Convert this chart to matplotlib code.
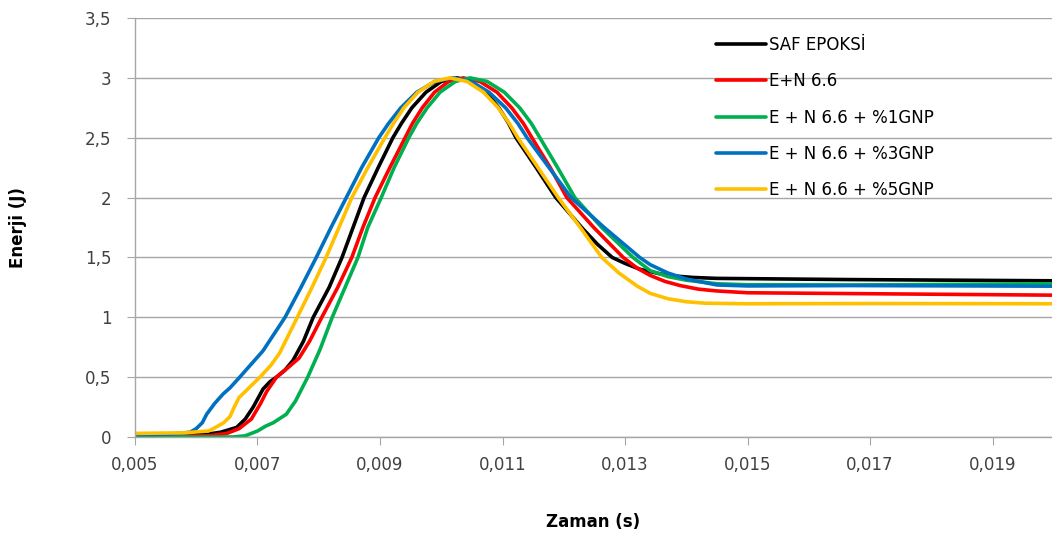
import matplotlib
matplotlib.use("Agg")
import matplotlib.pyplot as plt
from matplotlib.ticker import FixedLocator

# values (time in s, energy in J)
t_saf = [0.0050, 0.0058, 0.0062, 0.0064, 0.00666, 0.0068, 0.00693, 0.00709, 0.0072, 0.00731,
         0.00745, 0.00758, 0.00775, 0.00791, 0.00817, 0.00838, 0.00856, 0.00874, 0.00897, 0.00921,
         0.00935, 0.00952, 0.00975, 0.01000, 0.01026, 0.01049, 0.01073, 0.01094, 0.0111, 0.01122,
         0.01155, 0.01187, 0.01231, 0.01255, 0.01279, 0.01300, 0.01325, 0.01369, 0.0141, 0.0145,
         0.0167, 0.01997]
e_saf = [0.01, 0.015, 0.025, 0.04, 0.08, 0.15, 0.25, 0.40, 0.46, 0.50,
         0.56, 0.64, 0.80, 1.00, 1.25, 1.50, 1.75, 2.00, 2.25, 2.50,
         2.62, 2.75, 2.88, 2.97, 3.00, 2.97, 2.88, 2.75, 2.62, 2.50,
         2.25, 2.00, 1.74, 1.61, 1.50, 1.45, 1.40, 1.35, 1.333, 1.325,
         1.315, 1.305]

t_n66 = [0.0050, 0.0062, 0.0065, 0.0067, 0.0069, 0.00705, 0.00715, 0.00731, 0.0075, 0.00768,
         0.00785, 0.00805, 0.00831, 0.00854, 0.00872, 0.00892, 0.00916, 0.00941, 0.00953, 0.00969,
         0.00989, 0.01012, 0.01036, 0.01063, 0.01091, 0.01115, 0.01134, 0.01148, 0.01178, 0.01205,
         0.01249, 0.01297, 0.0132, 0.01341, 0.01365, 0.0139, 0.0142, 0.0145, 0.0150, 0.0167,
         0.01997]
e_n66 = [0.005, 0.01, 0.03, 0.07, 0.15, 0.28, 0.38, 0.50, 0.58, 0.66,
         0.80, 1.00, 1.25, 1.50, 1.75, 2.00, 2.25, 2.50, 2.62, 2.75,
         2.88, 2.97, 3.00, 2.97, 2.88, 2.75, 2.62, 2.50, 2.25, 2.00,
         1.75, 1.50, 1.41, 1.35, 1.30, 1.265, 1.235, 1.22, 1.205, 1.198,
         1.185]

t_gnp1 = [0.0050, 0.0066, 0.0068, 0.0070, 0.00713, 0.00726, 0.00747, 0.00762, 0.00774, 0.00782,
          0.00802, 0.00822, 0.00843, 0.00864, 0.0088, 0.00902, 0.00923, 0.00947, 0.0096, 0.00977,
          0.00998, 0.01023, 0.01047, 0.01075, 0.01103, 0.01128, 0.01147, 0.01161, 0.0119, 0.01218,
          0.01262, 0.01313, 0.01341, 0.0137, 0.0140, 0.0145, 0.0150, 0.0167, 0.01997]
e_gnp1 = [0.0, 0.0, 0.01, 0.05, 0.09, 0.12, 0.19, 0.30, 0.42, 0.50,
          0.73, 1.00, 1.25, 1.50, 1.75, 2.00, 2.25, 2.50, 2.62, 2.75,
          2.88, 2.97, 3.00, 2.97, 2.88, 2.75, 2.62, 2.50, 2.25, 2.00,
          1.75, 1.50, 1.39, 1.34, 1.31, 1.28, 1.272, 1.27, 1.28]

t_gnp3 = [0.0050, 0.0056, 0.0059, 0.0060, 0.0061, 0.00617, 0.0063, 0.00644, 0.00655, 0.00671,
          0.0069, 0.00709, 0.00727, 0.00745, 0.00771, 0.00796, 0.0082, 0.00845, 0.0087, 0.00898,
          0.00914, 0.00934, 0.0096, 0.0099, 0.01019, 0.01049, 0.01078, 0.01105, 0.01125, 0.0114,
          0.01176, 0.01212, 0.01266, 0.01324, 0.01341, 0.0137, 0.0140, 0.0145, 0.0150, 0.0167,
          0.01997]
e_gnp3 = [0.02, 0.025, 0.04, 0.07, 0.12, 0.19, 0.28, 0.36, 0.41, 0.50,
          0.61, 0.72, 0.86, 1.00, 1.25, 1.50, 1.75, 2.00, 2.25, 2.50,
          2.62, 2.75, 2.88, 2.97, 3.00, 2.97, 2.88, 2.75, 2.62, 2.50,
          2.25, 2.00, 1.75, 1.50, 1.44, 1.37, 1.32, 1.27, 1.262, 1.265,
          1.26]

t_gnp5 = [0.0050, 0.0058, 0.0062, 0.00628, 0.00645, 0.00655, 0.00663, 0.0067, 0.00678, 0.00704,
          0.00722, 0.00736, 0.00765, 0.00789, 0.00812, 0.00833, 0.00854, 0.0088, 0.00908, 0.00922,
          0.00939, 0.00962, 0.00988, 0.01014, 0.01042, 0.01069, 0.01093, 0.01111, 0.01125, 0.01158,
          0.01191, 0.01227, 0.01262, 0.0129, 0.0132, 0.01341, 0.0137, 0.0140, 0.0143, 0.0150,
          0.0170, 0.01997]
e_gnp5 = [0.03, 0.035, 0.05, 0.07, 0.12, 0.17, 0.26, 0.33, 0.37, 0.50,
          0.60, 0.70, 1.00, 1.25, 1.50, 1.75, 2.00, 2.25, 2.50, 2.62,
          2.75, 2.88, 2.97, 3.00, 2.97, 2.88, 2.75, 2.62, 2.50, 2.25,
          2.00, 1.75, 1.50, 1.37, 1.26, 1.20, 1.155, 1.13, 1.118, 1.113,
          1.115, 1.113]

labels = ["SAF EPOKSİ", "E+N 6.6", "E + N 6.6 + %1GNP", "E + N 6.6 + %3GNP", "E + N 6.6 + %5GNP"]
colors = ["#000000", "#FF0000", "#00B050", "#0070C0", "#FFC000"]
x_ticks = [0.005, 0.007, 0.009, 0.011, 0.013, 0.015, 0.017, 0.019]
x_ticklabels = ["0,005", "0,007", "0,009", "0,011", "0,013", "0,015", "0,017", "0,019"]
y_ticks = [0, 0.5, 1, 1.5, 2, 2.5, 3, 3.5]
y_ticklabels = ["0", "0,5", "1", "1,5", "2", "2,5", "3", "3,5"]

plt.rcParams["font.family"] = ["DejaVu Sans"]

fig = plt.figure(figsize=(10.52, 5.33), dpi=100)
ax = fig.add_axes([0.1283, 0.1801, 0.8717, 0.7861])

series = [(t_saf, e_saf), (t_n66, e_n66), (t_gnp1, e_gnp1), (t_gnp3, e_gnp3), (t_gnp5, e_gnp5)]
for (t, e), lab, c in zip(series, labels, colors):
    ax.plot(t, e, color=c, lw=2.6, label=lab, solid_joinstyle="round", solid_capstyle="round")

ax.set_xlim(0.005, 0.01997)
ax.set_ylim(0, 3.5)
ax.xaxis.set_major_locator(FixedLocator(x_ticks))
ax.set_xticklabels(x_ticklabels)
ax.yaxis.set_major_locator(FixedLocator(y_ticks))
ax.set_yticklabels(y_ticklabels)

ax.grid(axis="y", color="#A6A6A6", lw=1.0)
ax.set_axisbelow(True)
for s in ["top", "right"]:
    ax.spines[s].set_visible(False)
for s in ["left", "bottom"]:
    ax.spines[s].set_color("#A6A6A6")
    ax.spines[s].set_linewidth(1.0)
ax.tick_params(axis="both", direction="out", length=6, color="#A6A6A6",
               labelsize=12, labelcolor="#404040")
ax.tick_params(axis="x", pad=8)
ax.tick_params(axis="y", pad=11)

ax.set_xlabel("Zaman (s)", fontsize=12, fontweight="bold", labelpad=28)
ax.set_ylabel("Enerji (J)", fontsize=12, fontweight="bold", labelpad=42)

ax.legend(loc="upper left", bbox_to_anchor=(0.626, 0.973), frameon=False, fontsize=12,
          handlelength=3.0, handletextpad=0.2, labelspacing=1.1, borderaxespad=0)

fig.savefig("out.png", dpi=100)
